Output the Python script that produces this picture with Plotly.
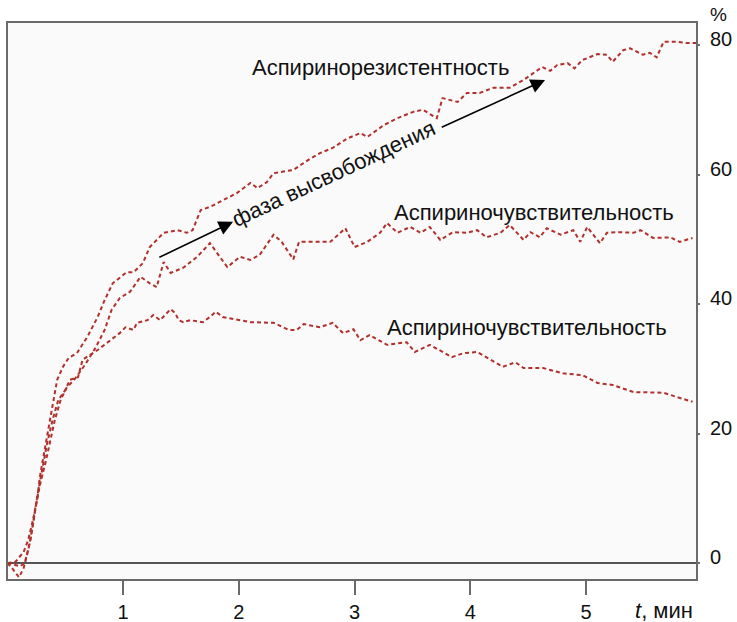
import plotly.graph_objects as go

# ---- data (t in minutes, values in %) ----
t_resist = [0.0, 0.07, 0.14, 0.18, 0.22, 0.26, 0.28, 0.31, 0.34, 0.37, 0.40, 0.43, 0.48, 0.53, 0.60,
            0.69, 0.78, 0.84, 0.91, 0.97, 1.03, 1.09, 1.17, 1.23, 1.35, 1.47, 1.55, 1.60, 1.67, 1.75,
            1.84, 1.98, 2.10, 2.16, 2.24, 2.30, 2.47, 2.62, 2.70, 2.81, 2.94, 3.05, 3.11, 3.25, 3.37,
            3.51, 3.59, 3.71, 3.76, 3.89, 3.97, 4.08, 4.20, 4.34, 4.46, 4.52, 4.62, 4.69, 4.75, 4.84,
            4.90, 4.97, 5.10, 5.18, 5.23, 5.32, 5.38, 5.49, 5.55, 5.61, 5.67, 5.79, 5.86, 5.95]
v_resist = [0.0, 0.2, 1.7, 3.6, 6.6, 10.2, 13.3, 16.4, 19.5, 22.5, 25.6, 28.3, 30.3, 31.7, 32.4,
            34.9, 38.0, 40.6, 43.2, 44.0, 44.9, 44.9, 46.3, 48.8, 51.0, 51.4, 51.0, 51.4, 54.5, 55.0,
            55.8, 57.1, 58.7, 57.9, 58.8, 60.2, 60.7, 62.5, 63.3, 64.1, 65.6, 66.4, 65.8, 67.6, 68.7,
            69.7, 70.0, 68.7, 71.8, 71.2, 72.6, 72.6, 73.4, 73.4, 74.6, 75.4, 76.6, 76.0, 76.9, 77.2,
            76.4, 77.7, 78.6, 78.5, 77.4, 79.2, 79.5, 78.5, 78.8, 78.1, 80.5, 80.5, 80.3, 80.3]

t_sens_hi = [0.0, 0.11, 0.15, 0.20, 0.24, 0.28, 0.33, 0.37, 0.41, 0.46, 0.51, 0.59, 0.67, 0.76, 0.84,
             0.90, 0.97, 1.06, 1.15, 1.23, 1.29, 1.35, 1.41, 1.52, 1.64, 1.75, 1.81, 1.90, 2.01, 2.10,
             2.18, 2.30, 2.37, 2.47, 2.52, 2.64, 2.79, 2.92, 3.00, 3.11, 3.22, 3.28, 3.37, 3.48, 3.57,
             3.65, 3.74, 3.85, 3.97, 4.06, 4.14, 4.26, 4.34, 4.46, 4.52, 4.60, 4.66, 4.78, 4.89, 4.95,
             5.01, 5.12, 5.18, 5.29, 5.41, 5.47, 5.58, 5.73, 5.81, 5.92]
v_sens_hi = [0.0, -0.5, 0.0, 3.6, 8.2, 12.0, 15.6, 19.0, 22.1, 25.2, 27.0, 28.6, 30.6, 33.2, 36.0,
             39.1, 40.9, 41.9, 44.2, 43.2, 42.6, 46.5, 44.8, 45.6, 47.3, 49.4, 47.9, 45.7, 47.3, 46.8,
             47.6, 50.7, 49.6, 46.9, 49.6, 49.6, 49.6, 51.7, 48.8, 49.6, 51.0, 52.5, 51.0, 51.9, 51.0,
             51.9, 49.9, 51.1, 51.0, 51.4, 50.3, 51.0, 52.2, 49.9, 51.1, 50.3, 51.7, 50.7, 51.4, 49.6,
             51.9, 49.4, 51.0, 51.1, 51.0, 51.4, 50.2, 50.3, 49.6, 50.2]

t_sens_lo = [0.0, 0.04, 0.10, 0.14, 0.18, 0.22, 0.26, 0.30, 0.34, 0.39, 0.44, 0.50, 0.54, 0.61, 0.65,
             0.78, 0.86, 0.97, 1.02, 1.09, 1.12, 1.21, 1.26, 1.32, 1.41, 1.45, 1.48, 1.52, 1.58, 1.69,
             1.75, 1.80, 1.86, 1.92, 2.10, 2.30, 2.43, 2.50, 2.56, 2.70, 2.81, 2.90, 2.99, 3.05, 3.13,
             3.28, 3.45, 3.52, 3.65, 3.76, 3.84, 3.94, 4.06, 4.28, 4.39, 4.46, 4.63, 4.80, 4.97, 5.10,
             5.23, 5.41, 5.55, 5.67, 5.79, 5.92]
v_sens_lo = [0.0, -0.8, -2.2, -0.8, 2.0, 5.9, 10.5, 14.4, 18.2, 22.1, 25.2, 26.7, 28.3, 28.7, 31.4,
             32.9, 34.0, 35.5, 36.4, 36.0, 37.1, 37.5, 38.3, 37.5, 39.2, 38.6, 37.5, 37.2, 37.5, 37.2,
             38.0, 38.8, 38.0, 37.8, 37.2, 37.1, 36.0, 36.0, 36.9, 36.4, 37.1, 35.5, 36.1, 34.4, 35.2,
             33.7, 34.1, 32.6, 33.7, 32.6, 31.8, 32.4, 32.6, 30.3, 31.0, 30.1, 30.1, 29.3, 29.0, 27.8,
             27.5, 26.4, 26.3, 26.3, 25.6, 24.9]

x_tick_vals = [1, 2, 3, 4, 5]
x_tick_text = ["1", "2", "3", "4", "5"]
y_tick_vals = [0, 20, 40, 60, 80]
y_tick_text = ["0", "20", "40", "60", "80"]

label_resist = "Аспиринорезистентность"
label_sens = "Аспириночувствительность"
label_phase = "фаза высвобождения"

FONT = "Liberation Sans, Arial, Helvetica, sans-serif"
LINE = dict(color="#b0302c", width=2, dash="4px,3px")
FRAME = "#6a6a6a"

fig = go.Figure()
for t, v in [(t_resist, v_resist), (t_sens_hi, v_sens_hi), (t_sens_lo, v_sens_lo)]:
    fig.add_trace(go.Scatter(x=t, y=v, mode="lines", line=LINE,
                             showlegend=False, hoverinfo="skip"))

fig.update_layout(
    width=737, height=622,
    margin=dict(l=8, r=41, t=23, b=43),
    paper_bgcolor="white", plot_bgcolor="#fafafa",
    font=dict(family=FONT, size=22, color="#111111"),
    showlegend=False,
)
fig.update_xaxes(range=[0.005, 5.95], tickvals=x_tick_vals, ticktext=x_tick_text,
                 ticks="outside", ticklen=14, tickwidth=2, tickcolor=FRAME,
                 tickfont=dict(size=20), automargin=False,
                 showline=True, linecolor=FRAME, linewidth=2, mirror=True,
                 showgrid=False, zeroline=False)
fig.update_yaxes(side="right", range=[-2.47, 83.4], tickvals=y_tick_vals, ticktext=y_tick_text,
                 ticks="outside", ticklen=2, tickwidth=2, tickcolor=FRAME,
                 tickfont=dict(size=20), automargin=False,
                 showline=True, linecolor=FRAME, linewidth=2, mirror=True,
                 showgrid=False, zeroline=True, zerolinecolor="#555555", zerolinewidth=1.5,
                 ticklabelshift=-6, ticklabelstandoff=6)

# text labels
fig.add_annotation(x=3.22, y=76.6, text=label_resist, showarrow=False, xanchor="center", yanchor="middle")
fig.add_annotation(x=4.55, y=54.2, text=label_sens, showarrow=False, xanchor="center", yanchor="middle")
fig.add_annotation(x=4.49, y=36.4, text=label_sens, showarrow=False, xanchor="center", yanchor="middle")
fig.add_annotation(x=2.82, y=60.1, text=label_phase, showarrow=False, textangle=-25,
                   xanchor="center", yanchor="middle")

# arrows
for (tx, ty, hx, hy) in [(1.30, 47.1, 1.95, 52.7), (3.74, 67.2, 4.646, 74.6)]:
    fig.add_annotation(x=hx, y=hy, ax=tx, ay=ty, xref="x", yref="y", axref="x", ayref="y",
                       text="", showarrow=True, arrowhead=2, arrowsize=1.8, arrowwidth=1.6,
                       arrowcolor="#000000")

fig.add_annotation(xref="paper", yref="paper", x=1.0334, y=1.016, text="%", showarrow=False,
                   font=dict(size=19), xanchor="center", yanchor="middle")
fig.add_annotation(xref="paper", yref="paper", x=0.9535, y=-0.0558, text="<i>t</i>, мин",
                   showarrow=False, xanchor="center", yanchor="middle")

# remove the browser's default 8px body margin so the 737x622 figure fills the window exactly
fig.write_html("out.html", config={"displayModeBar": False},
               post_script="document.body.style.margin='0px';document.body.style.overflow='hidden';")
